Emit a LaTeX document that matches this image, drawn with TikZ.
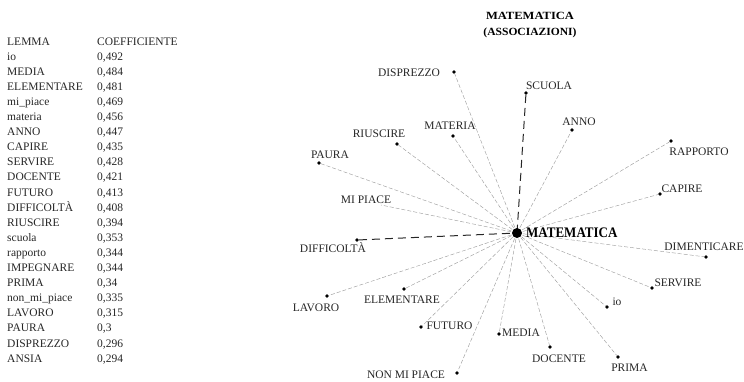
\documentclass[tikz,border=0pt]{standalone}
\usepackage{fontspec}
\setmainfont{Liberation Serif}
\begin{document}
\begin{tikzpicture}[x=1pt,y=-1pt,
  txt/.style={inner sep=0pt,anchor=base,text=black!85,font=\fontsize{11.5}{12}\selectfont},
  tcell/.style={inner sep=0pt,anchor=base west,text=black!85,font=\fontsize{11.5}{12}\selectfont},
  pt/.style={circle,fill=black,inner sep=0pt,minimum size=3.6pt},
  hub/.style={circle,fill=black,inner sep=0pt,minimum size=10pt},
  link/.style={draw=black!38,line width=0.45pt,dash pattern=on 4pt off 2pt},
  strong/.style={draw=black!85,line width=1pt,dash pattern=on 8pt off 5pt}]
\useasboundingbox (0,0) rectangle (744,381);

% table
\node[tcell] (lh) at (7,45) {LEMMA};
\node[tcell] (ch) at (97,45) {COEFFICIENTE};
\foreach \w/\v [count=\i] in {io/0{,}492,MEDIA/0{,}484,ELEMENTARE/0{,}481,mi\_piace/0{,}469,materia/0{,}456,ANNO/0{,}447,CAPIRE/0{,}435,SERVIRE/0{,}428,DOCENTE/0{,}421,FUTURO/0{,}413,DIFFICOLTÀ/0{,}408,RIUSCIRE/0{,}394,scuola/0{,}353,rapporto/0{,}344,IMPEGNARE/0{,}344,PRIMA/0{,}34,non\_mi\_piace/0{,}335,LAVORO/0{,}315,PAURA/0{,}3,DISPREZZO/0{,}296,ANSIA/0{,}294}{
  \node[tcell] (l\i) at (7,{45+15.1*\i}) {\w};
  \node[tcell] (c\i) at (97,{45+15.1*\i}) {\v};
}

% title
\node[inner sep=0pt,anchor=base,font=\fontsize{11}{12}\selectfont\bfseries] (t1) at (530,19) {\scalebox{1.14}[1]{MATEMATICA}};
\node[inner sep=0pt,anchor=base,font=\fontsize{11}{12}\selectfont\bfseries] (t2) at (530,35) {\scalebox{1.05}[1]{(ASSOCIAZIONI)}};

% points
\coordinate (hc) at (517,233);
\node[pt] (disprezzo) at (454,72) {};
\node[pt] (scuola) at (526,93) {};
\node[pt] (materia) at (453,136) {};
\node[pt] (riuscire) at (397,144) {};
\node[pt] (paura) at (319,163) {};
\node[pt] (anno) at (572,130) {};
\node[pt] (rapporto) at (671,141) {};
\node[pt] (capire) at (660,194) {};
\node[pt] (dimenticare) at (706,257) {};
\node[pt] (servire) at (652,288) {};
\node[pt] (io) at (607,307) {};
\node[pt] (prima) at (618,357) {};
\node[pt] (docente) at (550,347) {};
\node[pt] (media) at (499,334) {};
\node[pt] (nonmipiace) at (457,373) {};
\node[pt] (futuro) at (421,327) {};
\node[pt] (elementare) at (404,289) {};
\node[pt] (lavoro) at (327,296) {};
\node[pt] (difficolta) at (357,240) {};
\coordinate (mipiace) at (381,205);

% links
\foreach \p in {disprezzo,materia,riuscire,paura,anno,rapporto,capire,dimenticare,servire,io,prima,docente,media,nonmipiace,futuro,elementare,lavoro,mipiace}
  \draw[link] (hc) -- (\p);
\draw[strong] (scuola) -- (hc);
\draw[strong] (difficolta) -- (hc);

\node[hub] (hub) at (hc) {};

% labels
\node[txt] (ldisprezzo) at (409,76) {DISPREZZO};
\node[txt] (lscuola) at (549,89) {SCUOLA};
\node[txt] (lmateria) at (450,129.5) {MATERIA};
\node[txt] (lriuscire) at (379,137) {RIUSCIRE};
\node[txt] (lpaura) at (330,158) {PAURA};
\node[txt] (lanno) at (579,125) {ANNO};
\node[txt] (lrapporto) at (699,155) {RAPPORTO};
\node[txt] (lcapire) at (682,192) {CAPIRE};
\node[txt] (ldimenticare) at (704,250.5) {DIMENTICARE};
\node[txt] (lservire) at (678,286) {SERVIRE};
\node[txt] (lio) at (617,305.5) {io};
\node[txt] (lprima) at (629.5,371.5) {PRIMA};
\node[txt] (ldocente) at (559,362) {DOCENTE};
\node[txt] (lmedia) at (521,336.5) {MEDIA};
\node[txt] (lnonmipiace) at (406,378) {NON MI PIACE};
\node[txt] (lfuturo) at (449.5,329.5) {FUTURO};
\node[txt] (lelementare) at (402,303) {ELEMENTARE};
\node[txt] (llavoro) at (316,311.5) {LAVORO};
\node[txt] (ldifficolta) at (333,252) {DIFFICOLTÀ};
\node[txt] (lmipiace) at (366,203) {MI PIACE};
\node[inner sep=0pt,anchor=base west,font=\fontsize{13}{14}\selectfont\bfseries] (lhub) at (526,237.5) {\scalebox{1}[1.12]{MATEMATICA}};
\end{tikzpicture}
\end{document}
